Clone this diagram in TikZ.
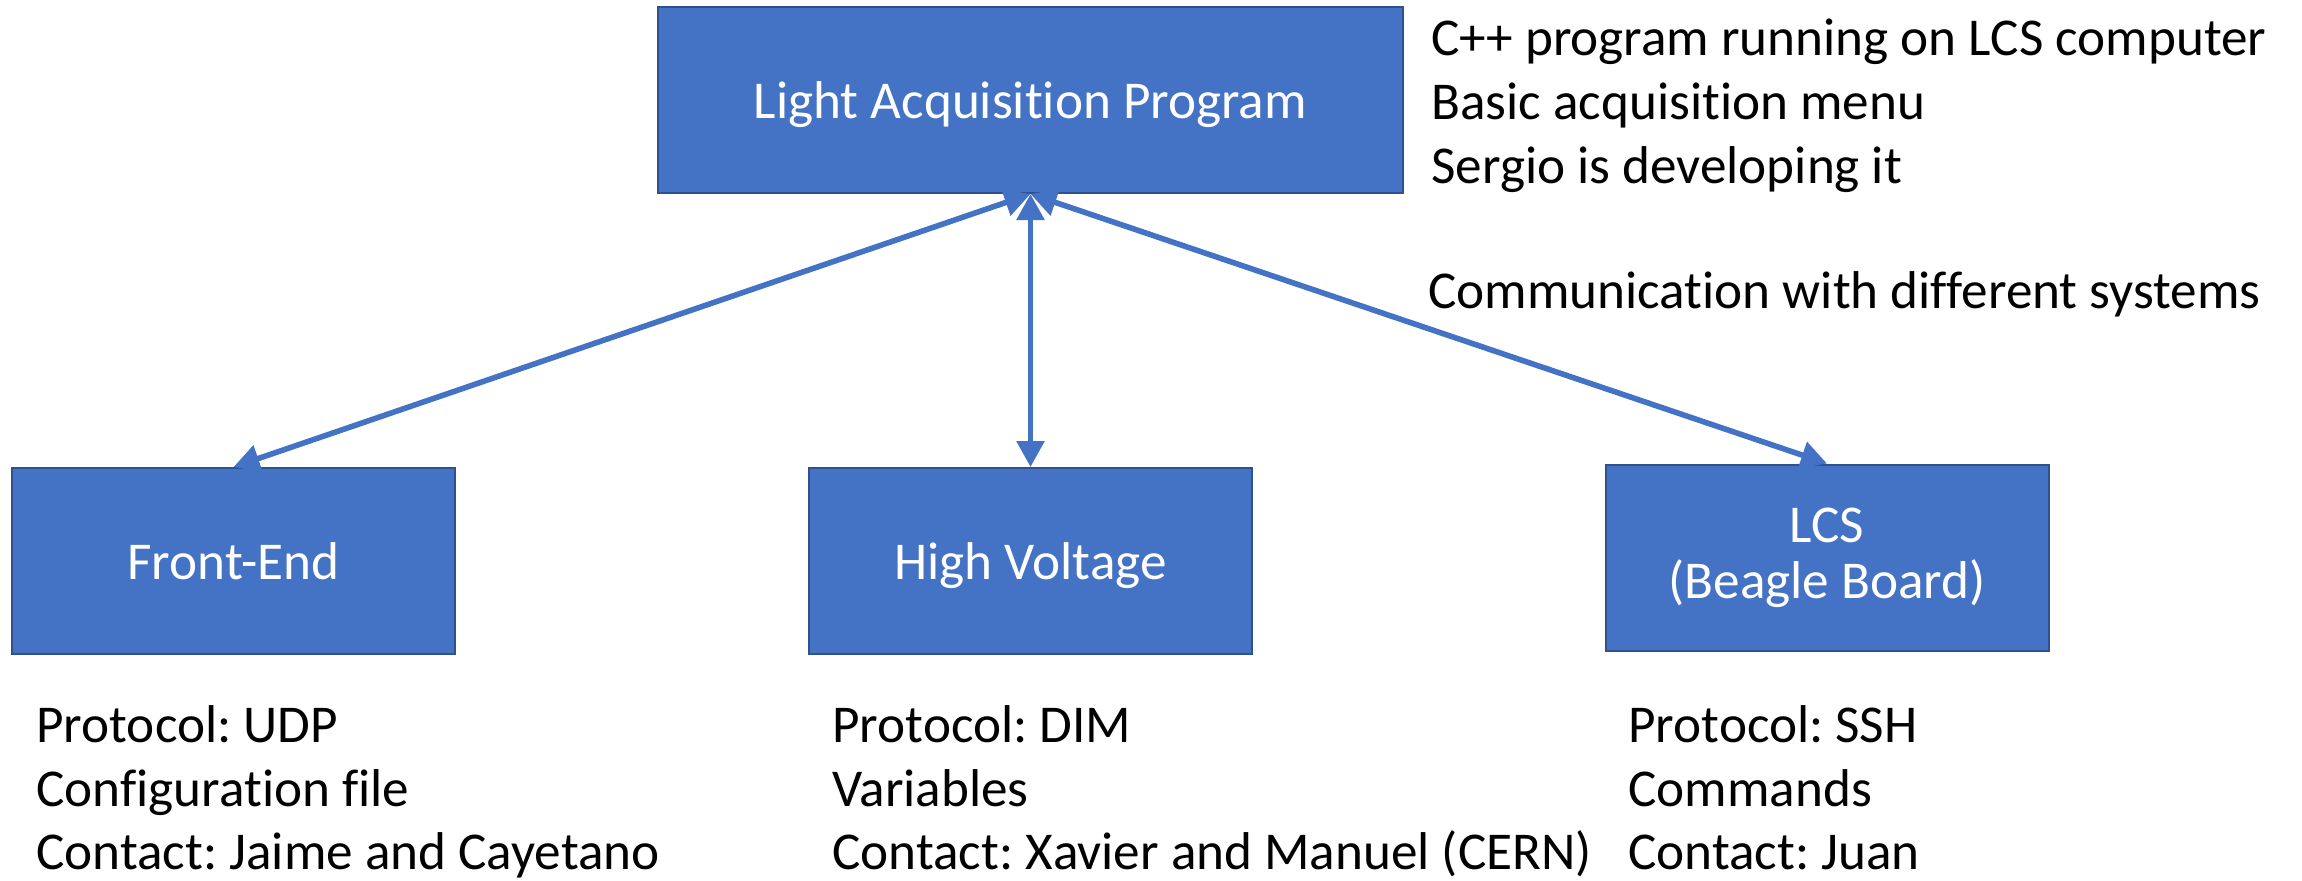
\documentclass[tikz,border=0pt]{standalone}
\usepackage{fontspec}
\setmainfont{Carlito}[Ligatures=NoCommon]
\frenchspacing
\usetikzlibrary{arrows.meta}
\definecolor{boxfill}{HTML}{4472C4}
\definecolor{boxline}{HTML}{2F528F}
\definecolor{arrowcol}{HTML}{4472C4}
\begin{document}
\begin{tikzpicture}[x=0.5pt,y=-0.5pt,
  box/.style={draw=boxline, line width=1pt, fill=boxfill, text=white, inner sep=0pt,
    minimum width=221.5pt, minimum height=93pt, font=\fontsize{26.6}{28}\selectfont},
  topbox/.style={box, minimum width=372.5pt},
  oneline/.style={text height=24.8pt, text depth=6.6pt},
  note/.style={anchor=base west, inner sep=0pt, font=\fontsize{26.6}{32}\selectfont},
  link/.style={draw=arrowcol, line width=2.8pt,
    {Triangle[length=13pt,width=13.5pt]}-{Triangle[length=13pt,width=13.5pt]}}]
\useasboundingbox (0,0) rectangle (2302,880);

\node[topbox, oneline] (lap) at (1030.5,100) {Light Acquisition Program};
\node[box, oneline] (fe) at (233.5,561) {Front-End};
\node[box, oneline] (hv) at (1030.5,561) {High Voltage};
\node[box, align=center] (lcs) at (1827,557.5) {LCS\\(Beagle Board)};

\node[note] (t1) at (1431,55) {C++ program running on LCS computer};
\node[note] (t2) at (1431,119) {Basic acquisition menu};
\node[note] (t3) at (1431,183) {Sergio is developing it};
\node[note] (t4) at (1428,308) {Communication with different systems};

\node[note] (f1) at (36,742) {Protocol: UDP};
\node[note] (f2) at (36,806) {Configuration file};
\node[note] (f3) at (36,869) {Contact: Jaime and Cayetano};

\node[note] (h1) at (832,742) {Protocol: DIM};
\node[note] (h2) at (832,806) {Variables};
\node[note] (h3) at (832,869) {Contact: Xavier and Manuel (CERN)};

\node[note] (l1) at (1628,742) {Protocol: SSH};
\node[note] (l2) at (1628,806) {Commands};
\node[note] (l3) at (1628,869) {Contact: Juan};

\draw[link] (lap.south) -- (fe.north);
\draw[link] (lap.south) -- (hv.north);
\draw[link] (lap.south) -- (lcs.north);
\end{tikzpicture}
\end{document}
